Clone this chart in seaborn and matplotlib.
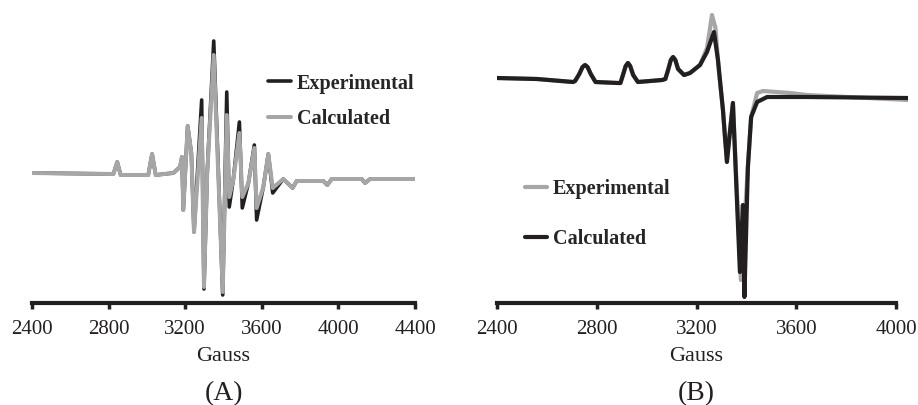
import numpy as np
import pandas as pd
import matplotlib
matplotlib.use('Agg')
import matplotlib.pyplot as plt
import seaborn as sns

# ---- panel (A) : same field points for both traces
gauss_a = [2400, 2825, 2845, 2863, 3007, 3027, 3046, 3138, 3173, 3183, 3190, 3213, 3232,
           3246, 3286, 3298, 3315, 3349, 3396, 3417, 3430, 3451, 3483, 3498, 3530, 3561,
           3573, 3608, 3634, 3657, 3712, 3761, 3782, 3921, 3942, 3965, 4122, 4139, 4165, 4400]
exp_a = [7, 6, 18, 5, 5, 26, 5, 7, 13, 23, -30, 54, 27,
         -52, 80, -109, 7, 139, -115, 88, -27, 0, 58, -28, -3, 35,
         -40, -7, 26, -13, 1, -8, -1, -1, -5, 1, 1, -3, 1, 1]
calc_a = [7, 6, 18, 5, 5, 26, 5, 7, 13, 23, -30, 54, 27,
          -52, 62, -107, 7, 125, -112, 65, -17, 0, 47, -17, -3, 32,
          -28, -7, 26, -8, 1, -8, -1, -1, -5, 1, 1, -3, 1, 1]

# ---- panel (B)
gauss_b_exp = [2400, 2560, 2705, 2713, 2730, 2743, 2753, 2763, 2776, 2795, 2885, 2895, 2905,
               2916, 2925, 2934, 2946, 2965, 3062, 3075, 3086, 3097, 3106, 3115, 3126, 3150,
               3174, 3214, 3242, 3252, 3262, 3276, 3290, 3306, 3314, 3322, 3330, 3346, 3378,
               3406, 3419, 3443, 3467, 3575, 3643, 4048]
exp_b = [22, 21, 18, 19, 26, 33, 35, 33, 26, 18, 17, 17, 25,
         34, 37, 34, 25, 18, 20, 21, 30, 40, 43, 40, 31, 25,
         27, 35, 52, 68, 85, 72, 28, -10, -35, -60, -40, -3, -180,
         -67, -17, 7, 9, 7, 5, 0]
gauss_b_calc = [2400, 2560, 2705, 2713, 2730, 2743, 2753, 2763, 2776, 2795, 2885, 2895, 2905,
                2916, 2925, 2934, 2946, 2965, 3062, 3075, 3086, 3097, 3106, 3115, 3126, 3150,
                3174, 3214, 3242, 3256, 3270, 3286, 3306, 3314, 3322, 3330, 3346, 3374, 3386,
                3392, 3406, 3419, 3443, 3483, 3643, 4048]
calc_b = [22, 21, 18, 19, 26, 33, 35, 33, 26, 18, 17, 17, 25,
          34, 37, 34, 25, 18, 20, 21, 30, 40, 43, 40, 31, 25,
          27, 35, 48, 58, 68, 40, -10, -37, -62, -42, -3, -172, -105,
          -197, -67, -17, -2, 3, 3, 2]

black = '#231f20'
grey = '#a6a6a6'

sns.set_theme(style='white')
plt.rcParams['font.family'] = ['Liberation Serif', 'DejaVu Serif']

fig = plt.figure(figsize=(9.18, 4.05), dpi=100)
ax_a = fig.add_axes([32/918, 102/405, 383/918, 298/405])
ax_b = fig.add_axes([497/918, 102/405, 411/918, 298/405])

df_a = pd.DataFrame({'Gauss': gauss_a, 'exp': exp_a, 'calc': calc_a})
sns.lineplot(data=df_a, x='Gauss', y='exp', ax=ax_a, color=black, lw=2.6,
             label='Experimental', estimator=None, sort=False)
sns.lineplot(data=df_a, x='Gauss', y='calc', ax=ax_a, color=grey, lw=2.9,
             label='Calculated', estimator=None, sort=False)

df_b1 = pd.DataFrame({'Gauss': gauss_b_exp, 'val': exp_b})
df_b2 = pd.DataFrame({'Gauss': gauss_b_calc, 'val': calc_b})
sns.lineplot(data=df_b1, x='Gauss', y='val', ax=ax_b, color=grey, lw=3,
             label='Experimental', estimator=None, sort=False)
sns.lineplot(data=df_b2, x='Gauss', y='val', ax=ax_b, color=black, lw=3,
             label='Calculated', estimator=None, sort=False)

ax_a.set_xlim(2400, 4400)
ax_a.set_ylim(-123, 175)
ax_a.set_xticks(range(2400, 4401, 400))
ax_b.set_xlim(2400, 4048)
ax_b.set_ylim(-203, 95)
ax_b.set_xticks(range(2400, 4001, 400))
ax_b.spines['bottom'].set_bounds(2400, 4000)

leg_font = {'family': 'Liberation Serif', 'weight': 'bold', 'size': 14.5}
ax_a.legend(loc='upper left', bbox_to_anchor=(0.615, 0.77), frameon=False, prop=leg_font,
            handlelength=1.15, handletextpad=0.3, labelspacing=0.75, borderpad=0,
            borderaxespad=0)
ax_b.legend(loc='upper left', bbox_to_anchor=(0.068, 0.416), frameon=False, prop=leg_font,
            handlelength=1.1, handletextpad=0.3, labelspacing=1.5, borderpad=0,
            borderaxespad=0)

for ax, tag in [(ax_a, '(A)'), (ax_b, '(B)')]:
    for s in ['left', 'right', 'top']:
        ax.spines[s].set_visible(False)
    ax.spines['bottom'].set_linewidth(3)
    ax.spines['bottom'].set_color(black)
    ax.set_yticks([])
    ax.set_ylabel('')
    ax.tick_params(axis='x', direction='out', length=4, width=2.5, color=black,
                   labelsize=15, pad=8, bottom=True, labelcolor=black)
    ax.set_xlabel('Gauss', fontsize=16, color=black)
    ax.xaxis.label.set_va('center')
    x_mid = 0.5 if ax is ax_a else 800 / 1648
    ax.xaxis.set_label_coords(x_mid, -0.178)
    ax.text(x_mid, -0.305, tag, transform=ax.transAxes, ha='center', va='center',
            fontsize=20, color=black)
    ax.set_facecolor('none')

fig.savefig('out.png', dpi=100)
